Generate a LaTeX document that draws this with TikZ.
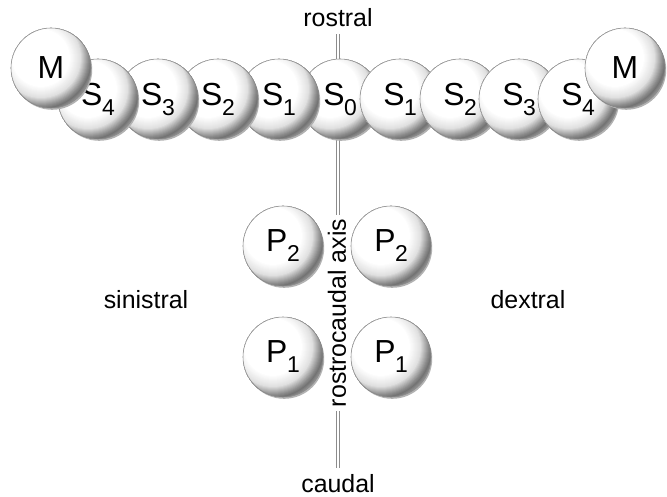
\documentclass[tikz,border=0pt]{standalone}
\usepackage{fontspec}
\setmainfont{Liberation Sans}
\newcommand{\sublab}[2]{#1\kern-0.5bp\raisebox{-10bp}{\fontsize{23}{23}\selectfont #2}}
\begin{document}
\begin{tikzpicture}[x=1bp,y=-1bp,
  ball/.style={circle, minimum size=80bp, inner sep=0pt, draw=black!45, line width=0.6bp,
    preaction={fill=black!30, transform canvas={shift={(1.2bp,-1.8bp)}}},
    path picture={
      \fill[white] (path picture bounding box.center) circle[radius=45];
      \foreach \r in {58,57,...,28}{
        \pgfmathsetmacro\c{(\r<=29)?0:((\r<=40)?(\r-29)*12/11:((\r<=48)?12+(\r-40)*33/8:((\r<=51)?45+(\r-48)*10/3:55-(\r-51)*25/7)))}
        \fill[black!\c] ([shift={(-10,-10)}]path picture bounding box.center) circle[radius=\r];
      }
    },
    font=\fontsize{32}{32}\selectfont},
  lab/.style={font=\fontsize{25}{25}\selectfont, inner sep=0pt},
  axisline/.style={draw=black!45, line width=0.7bp, double=white, double distance=2.6bp}]
\useasboundingbox (0,0) rectangle (667,497);
% axis
\node[lab] (rostral) at (338,18) {rostral};
\node[lab] (caudal) at (338,484) {caudal};
\coordinate (atop) at (338,34);
\coordinate (abot) at (338,468);
\draw[axisline] (atop) -- (abot);
\node[lab, rotate=90, fill=white, inner sep=4bp] (axislab) at (337,313) {rostrocaudal axis};
% S row (inner first)
\node[ball] (s0) at (340,99) {\sublab{S}{0}};
\node[ball] (s1r) at (400,99) {\sublab{S}{1}};
\node[ball] (s1l) at (279,99) {\sublab{S}{1}};
\node[ball] (s2r) at (460,99) {\sublab{S}{2}};
\node[ball] (s2l) at (218,99) {\sublab{S}{2}};
\node[ball] (s3r) at (519,99) {\sublab{S}{3}};
\node[ball] (s3l) at (158,99) {\sublab{S}{3}};
\node[ball] (s4r) at (578,99) {\sublab{S}{4}};
\node[ball] (s4l) at (98,99) {\sublab{S}{4}};
\node[ball] (ml) at (51,68) {M};
\node[ball] (mr) at (625,68) {M};
% P
\node[ball] (p2l) at (283,246) {\sublab{P}{2}};
\node[ball] (p2r) at (391,246) {\sublab{P}{2}};
\node[ball] (p1l) at (283,357) {\sublab{P}{1}};
\node[ball] (p1r) at (391,357) {\sublab{P}{1}};
% side labels
\node[lab] (sin) at (146,300) {sinistral};
\node[lab] (dex) at (528,300) {dextral};
\end{tikzpicture}
\end{document}
